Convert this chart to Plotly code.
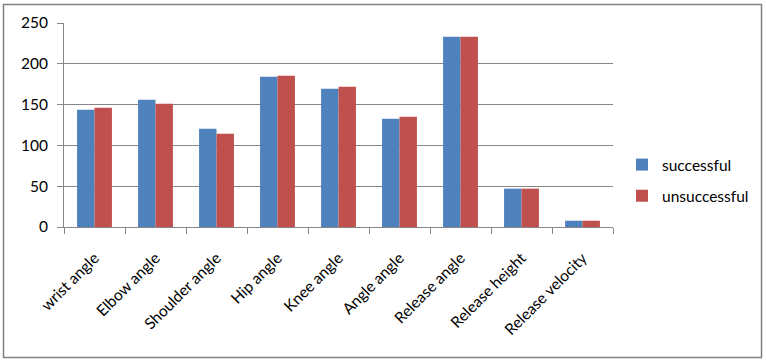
import plotly.graph_objects as go

categories = ["wrist angle", "Elbow angle", "Shoulder angle", "Hip angle", "Knee angle",
              "Angle angle", "Release angle", "Release height", "Release velocity"]
successful = [143.7, 156.0, 120.4, 184.2, 169.5, 132.7, 233.2, 47.0, 7.7]
unsuccessful = [146.2, 151.0, 114.3, 185.4, 171.9, 135.1, 233.2, 47.0, 7.7]
y_ticks = [0, 50, 100, 150, 200, 250]

FONT = "Lato, 'Liberation Sans', sans-serif"
GRID = "#868686"
FS = 15.5

W, H = 766, 362
L, R, T, B = 64, 153, 23, 135
pw = W - L - R
ph = H - T - B

fig = go.Figure()
fig.add_trace(go.Bar(name="successful", x=categories, y=successful,
                     marker=dict(color="#4F81BD", line=dict(width=0)), legendgroup="a"))
fig.add_trace(go.Bar(name="unsuccessful", x=categories, y=unsuccessful,
                     marker=dict(color="#C0504D", line=dict(width=0)), legendgroup="b"))

def px2paper_x(px):
    return (px - L) / pw

def px2paper_y(py):
    return (H - B - py) / ph

fig.update_layout(
    width=W, height=H,
    margin=dict(l=L, r=R, t=T, b=B, pad=0),
    paper_bgcolor="white", plot_bgcolor="white",
    barmode="group", bargap=1.5 / 3.5, bargroupgap=0,
    font=dict(family=FONT, size=FS, color="#000000"),
    showlegend=True,
    legend=dict(x=px2paper_x(622), y=px2paper_y(148), xanchor="left", yanchor="top",
                font=dict(family=FONT, size=FS, color="#000000"),
                tracegroupgap=8, traceorder="grouped", itemwidth=30,
                bgcolor="rgba(0,0,0,0)"),
    xaxis=dict(
        tickangle=-45, showgrid=False, showline=True, linecolor=GRID, linewidth=1,
        ticks="outside", ticklen=6, tickcolor=GRID, tickwidth=1,
        tickson="boundaries", tickfont=dict(family=FONT, size=FS, color="#000000"),
        ticklabelstandoff=15, automargin=False,
    ),
    yaxis=dict(
        range=[0, 250], tickvals=y_ticks, showgrid=True, gridcolor=GRID, gridwidth=1,
        showline=True, linecolor=GRID, linewidth=1, zeroline=False,
        ticks="outside", ticklen=6, tickcolor=GRID, tickwidth=1,
        tickfont=dict(family=FONT, size=FS, color="#000000"), automargin=False,
        ticklabelstandoff=6,
    ),
    shapes=[dict(type="rect", xref="paper", yref="paper",
                 x0=px2paper_x(3.5), x1=px2paper_x(761.5),
                 y0=px2paper_y(357.5), y1=px2paper_y(4.5),
                 line=dict(color="#808080", width=1.5), fillcolor="rgba(0,0,0,0)",
                 layer="below")],
)

fig.write_html("out.html", config={"displayModeBar": False},
               post_script="document.body.style.margin='0px';document.body.style.padding='0px';")
